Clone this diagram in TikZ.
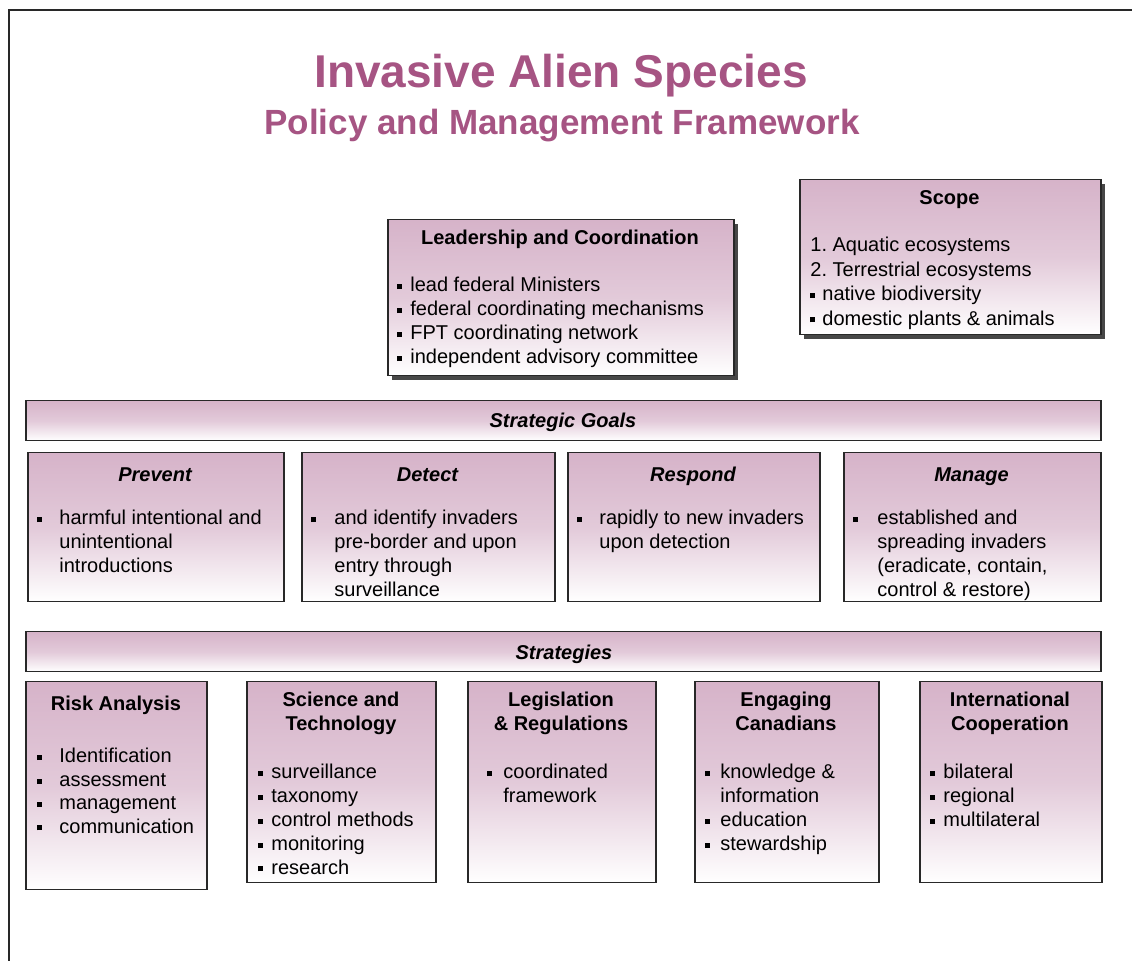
\documentclass[tikz,border=0pt]{standalone}
\usepackage{fontspec}
\setmainfont{Liberation Sans}
\usetikzlibrary{shadows}
\definecolor{mauve}{RGB}{214,179,201}
\definecolor{plum}{RGB}{166,84,131}
\definecolor{rim}{RGB}{40,40,40}
\newcommand{\sq}{\rule[1.4pt]{2.5pt}{2.5pt}}
\newcommand{\itm}[1]{\makebox[#1][l]{\sq}}
\newcommand{\gap}[1]{\makebox[#1]{}}
\newcommand{\lst}[1]{\begin{tabular}[t]{@{}l@{}}#1\end{tabular}}
\newcommand{\hd}[1]{\begin{tabular}[t]{@{}c@{}}#1\end{tabular}}

\begin{document}
\begin{tikzpicture}[x=0.5pt,y=-0.5pt,
	card/.style={draw=rim,line width=0.75pt,top color=mauve,bottom color=white,middle color=mauve!70,anchor=north west,inner sep=0pt},
	raised/.style={card,drop shadow={shadow xshift=2pt,shadow yshift=-2pt,fill=black!80,opacity=0.9}},
	head/.style={font=\bfseries\fontsize{10}{12}\selectfont,anchor=base,inner sep=0pt},
	goal/.style={head,font=\bfseries\itshape\fontsize{10}{12}\selectfont},
	body/.style={font=\fontsize{10}{11.9}\selectfont,anchor=base west,inner sep=0pt}]
\useasboundingbox (0,0) rectangle (1132,961);
\draw[rim,line width=1pt] (9,961) -- (9,10) -- (1132,10);

\node[font=\bfseries\fontsize{23}{27}\selectfont,text=plum,anchor=base] (title) at (561,88) {Invasive Alien Species};
\node[font=\bfseries\fontsize{17.5}{21}\selectfont,text=plum,anchor=base] (subtitle) at (562,135) {Policy and Management Framework};

\node[raised,minimum width=173pt,minimum height=78pt] (lead) at (387,219) {};
\node[head] (leadT) at (560,245) {Leadership and Coordination};
\node[body,font=\fontsize{10}{12}\selectfont] (leadL) at (397,292) {\lst{\itm{6.5pt}lead federal Ministers\\\itm{6.5pt}federal coordinating mechanisms\\\itm{6.5pt}FPT coordinating network\\\itm{6.5pt}independent advisory committee}};

\node[raised,minimum width=150.5pt,minimum height=77.5pt] (scope) at (799,179) {};
\node[head] (scopeT) at (949.5,205) {Scope};
\node[body,font=\fontsize{10}{12.2}\selectfont] (scopeL) at (810,252) {\lst{1.~Aquatic ecosystems\\2.~Terrestrial ecosystems\\\itm{6pt}native biodiversity\\\itm{6pt}domestic plants \& animals}};

\node[card,minimum width=537.5pt,minimum height=20pt] (goals) at (25,400) {};
\node[goal] (goalsT) at (563,428) {Strategic Goals};

\node[card,minimum width=128pt,minimum height=74.5pt] (prevent) at (27,452) {};
\node[goal] (preventT) at (155,482) {Prevent};
\node[body] (preventL) at (37,525) {\lst{\itm{11pt}harmful intentional and\\\gap{11pt}unintentional\\\gap{11pt}introductions}};

\node[card,minimum width=126.5pt,minimum height=74.5pt] (detect) at (301,452) {};
\node[goal] (detectT) at (427.5,482) {Detect};
\node[body] (detectL) at (311,525) {\lst{\itm{11.5pt}and identify invaders\\\gap{11.5pt}pre-border and upon\\\gap{11.5pt}entry through\\\gap{11.5pt}surveillance}};

\node[card,minimum width=126pt,minimum height=74.5pt] (respond) at (567,452) {};
\node[goal] (respondT) at (693,482) {Respond};
\node[body] (respondL) at (577,525) {\lst{\itm{11pt}rapidly to new invaders\\\gap{11pt}upon detection}};

\node[card,minimum width=128.5pt,minimum height=74.5pt] (manage) at (843,452) {};
\node[goal] (manageT) at (971.5,482) {Manage};
\node[body] (manageL) at (853,525) {\lst{\itm{12pt}established and\\\gap{12pt}spreading invaders\\\gap{12pt}(eradicate, contain,\\\gap{12pt}control \& restore)}};

\node[card,minimum width=537.5pt,minimum height=20pt] (strat) at (25,631) {};
\node[goal] (stratT) at (564,660) {Strategies};

\node[card,minimum width=90.5pt,minimum height=104pt] (risk) at (25,681) {};
\node[head] (riskT) at (116,711) {Risk Analysis};
\node[body,font=\fontsize{10}{11.7}\selectfont] (riskL) at (37,763) {\lst{\itm{11pt}Identification\\\itm{11pt}assessment\\\itm{11pt}management\\\itm{11pt}communication}};

\node[card,minimum width=94.5pt,minimum height=100.5pt] (sci) at (246,681) {};
\node[head] (sciT) at (341,707) {\hd{Science and\\Technology}};
\node[body] (sciL) at (258,779) {\lst{\itm{6.5pt}surveillance\\\itm{6.5pt}taxonomy\\\itm{6.5pt}control methods\\\itm{6.5pt}monitoring\\\itm{6.5pt}research}};

\node[card,minimum width=94pt,minimum height=100.5pt] (legis) at (467,681) {};
\node[head] (legisT) at (561,707) {\hd{Legislation\\\& Regulations}};
\node[body] (legisL) at (487,779) {\lst{\itm{8pt}coordinated\\\gap{8pt}framework}};

\node[card,minimum width=92pt,minimum height=100.5pt] (engage) at (694,681) {};
\node[head] (engageT) at (786,707) {\hd{Engaging\\Canadians}};
\node[body] (engageL) at (705,779) {\lst{\itm{7.5pt}knowledge \&\\\gap{7.5pt}information\\\itm{7.5pt}education\\\itm{7.5pt}stewardship}};

\node[card,minimum width=91pt,minimum height=100.5pt] (intl) at (919,681) {};
\node[head] (intlT) at (1010,707) {\hd{International\\Cooperation}};
\node[body] (intlL) at (930,779) {\lst{\itm{6.5pt}bilateral\\\itm{6.5pt}regional\\\itm{6.5pt}multilateral}};
\end{tikzpicture}
\end{document}
